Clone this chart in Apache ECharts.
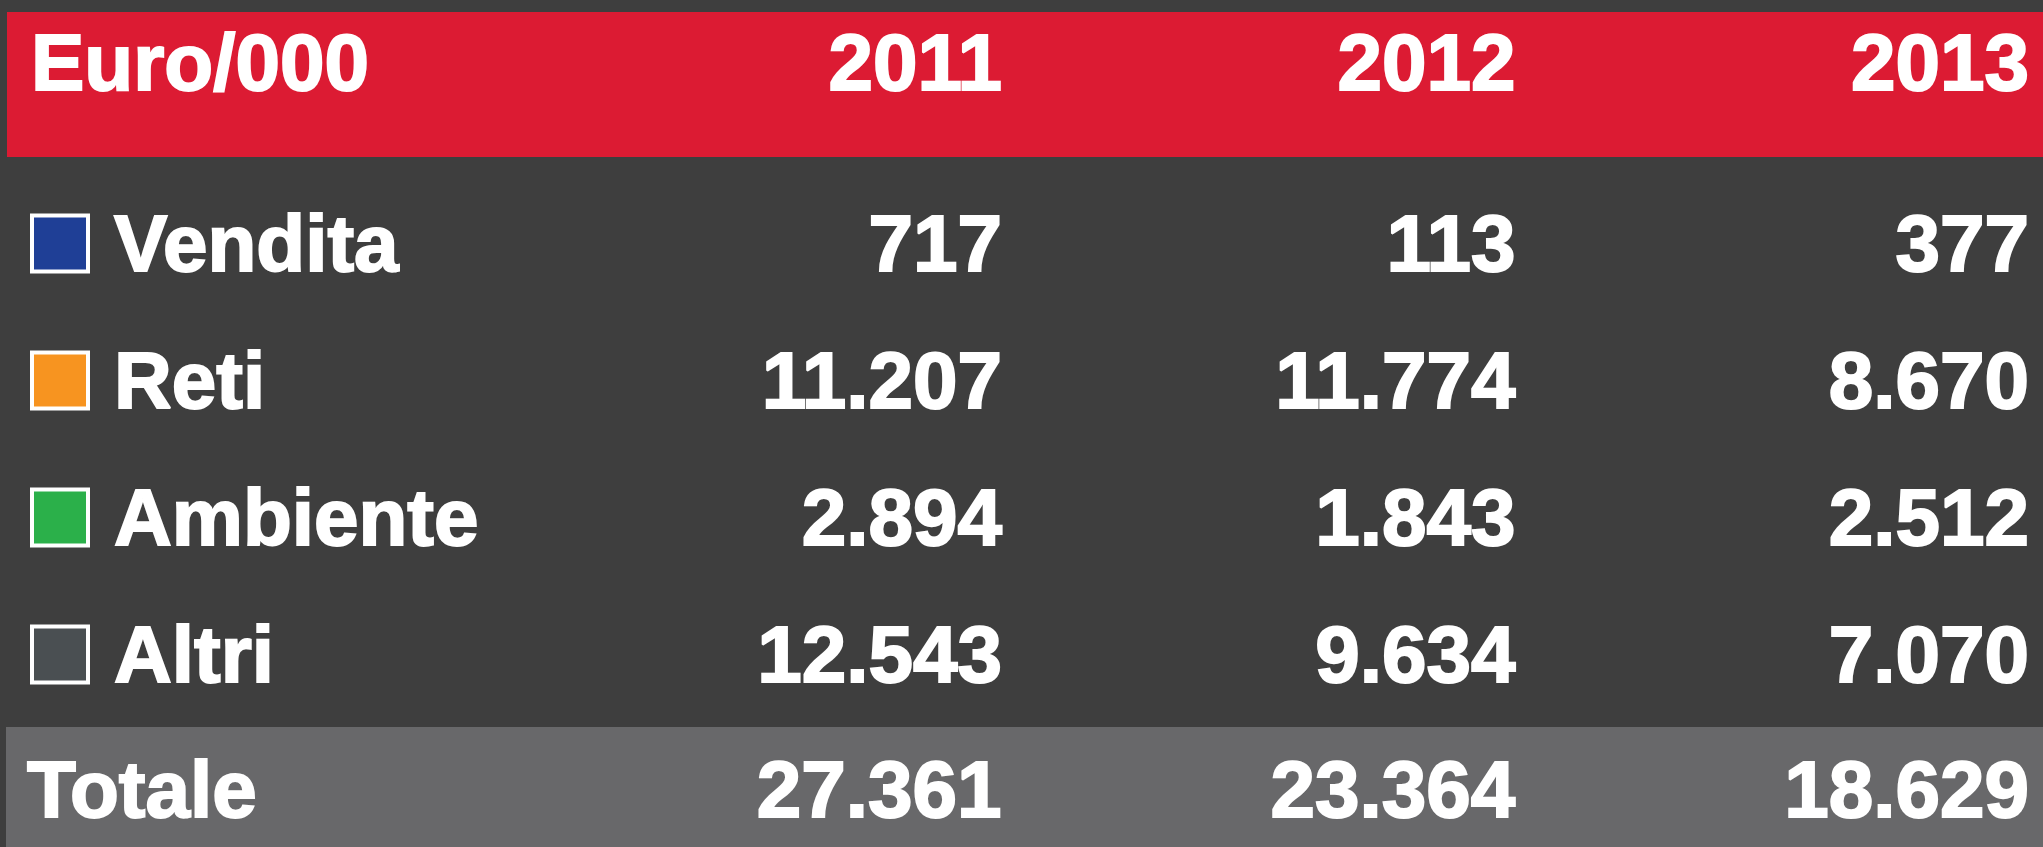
<!DOCTYPE html>
<html>
<head>
<meta charset="utf-8">
<script src="https://cdn.jsdelivr.net/npm/echarts@6/dist/echarts.min.js"></script>
<style>
    html, body {
        margin: 0;
        padding: 0;
        background: #3e3e3e;
    }
    #chart {
        width: 2043px;
        height: 847px;
    }
</style>
</head>
<body>
<div id="chart"></div>
<script>
    // intestazione e colonne
    const headerLabel = 'Euro/000'
    const years = ['2011', '2012', '2013']

    // righe della tabella
    const rowNames = ['Vendita', 'Reti', 'Ambiente', 'Altri']
    const rowColors = ['#1f3f96', '#f79420', '#2bb04a', '#4a4f52']

    const vendita = [717, 113, 377]
    const reti = [11207, 11774, 8670]
    const ambiente = [2894, 1843, 2512]
    const altri = [12543, 9634, 7070]

    const totaleLabel = 'Totale'
    const totale = [27361, 23364, 18629]

    const rowValues = [vendita, reti, ambiente, altri]

    // separatore migliaia con il punto
    const fmt = v => String(v).replace(/\B(?=(\d{3})+(?!\d))/g, '.')

    const FONT = '"Liberation Sans", Arial, Helvetica, sans-serif'
    const X_MIN = -0.9396
    const X_MAX = 3.0253

    const textStyle = {
        show: true,
        color: '#ffffff',
        opacity: 1,
        fontFamily: FONT,
        fontWeight: 'bold',
        fontSize: 80,
        textBorderColor: '#ffffff',
        textBorderWidth: 2
    }

    const hidden = { opacity: 1, color: 'transparent' }

    const xAxisFor = gridIndex => ({
        type: 'value',
        gridIndex: gridIndex,
        min: X_MIN,
        max: X_MAX,
        show: false
    })

    const yAxisFor = (gridIndex, data) => ({
        type: 'category',
        gridIndex: gridIndex,
        data: data,
        inverse: true,
        show: false
    })

    // celle numeriche (colonne 1..3)
    const valueCells = []
    rowValues.forEach((arr, r) => {
        arr.forEach((v, c) => {
            valueCells.push([c + 1, rowNames[r], v])
        })
    })

    const chart = echarts.init(document.getElementById('chart'))

    const option = {
        backgroundColor: '#3e3e3e',
        animation: false,
        grid: [
            {
                left: 7, right: 0, top: 12, height: 145,
                show: true, backgroundColor: '#dc1b33', borderWidth: 0
            },
            {
                left: 7, right: 0, top: 177, height: 548
            },
            {
                left: 6, right: 0, top: 727, height: 120,
                show: true, backgroundColor: '#68686a', borderWidth: 0
            }
        ],
        xAxis: [xAxisFor(0), xAxisFor(1), xAxisFor(2)],
        yAxis: [
            yAxisFor(0, [headerLabel]),
            yAxisFor(1, rowNames),
            yAxisFor(2, [totaleLabel])
        ],
        series: [
            // intestazione: Euro/000
            {
                type: 'scatter',
                xAxisIndex: 0,
                yAxisIndex: 0,
                symbolSize: 0,
                itemStyle: hidden,
                data: [[X_MIN, headerLabel]],
                label: Object.assign({}, textStyle, {
                    position: 'right',
                    distance: 24,
                    offset: [0, -17],
                    formatter: () => headerLabel
                })
            },
            // intestazione: anni
            {
                type: 'scatter',
                xAxisIndex: 0,
                yAxisIndex: 0,
                symbolSize: 0,
                itemStyle: hidden,
                data: years.map((y, i) => [i + 1, headerLabel, y]),
                label: Object.assign({}, textStyle, {
                    position: 'left',
                    distance: 1,
                    offset: [0, -17],
                    formatter: p => p.value[2]
                })
            },
            // quadratini colorati
            {
                type: 'scatter',
                xAxisIndex: 1,
                yAxisIndex: 1,
                symbol: 'rect',
                symbolSize: 56,
                symbolOffset: [53, -2],
                data: rowNames.map((n, i) => ({
                    value: [X_MIN, n],
                    itemStyle: { color: rowColors[i] }
                })),
                itemStyle: {
                    borderColor: '#ffffff',
                    borderWidth: 4,
                    opacity: 1
                }
            },
            // nomi delle righe
            {
                type: 'scatter',
                xAxisIndex: 1,
                yAxisIndex: 1,
                symbolSize: 0,
                itemStyle: hidden,
                data: rowNames.map(n => [X_MIN, n]),
                label: Object.assign({}, textStyle, {
                    position: 'right',
                    distance: 107,
                    offset: [0, 3],
                    formatter: p => p.value[1]
                })
            },
            // valori
            {
                type: 'scatter',
                xAxisIndex: 1,
                yAxisIndex: 1,
                symbolSize: 0,
                itemStyle: hidden,
                data: valueCells,
                label: Object.assign({}, textStyle, {
                    position: 'left',
                    distance: 1,
                    offset: [0, 3],
                    formatter: p => fmt(p.value[2])
                })
            },
            // totale
            {
                type: 'scatter',
                xAxisIndex: 2,
                yAxisIndex: 2,
                symbolSize: 0,
                itemStyle: hidden,
                data: [[X_MIN, totaleLabel]],
                label: Object.assign({}, textStyle, {
                    position: 'right',
                    distance: 21,
                    offset: [0, 8],
                    formatter: () => totaleLabel
                })
            },
            {
                type: 'scatter',
                xAxisIndex: 2,
                yAxisIndex: 2,
                symbolSize: 0,
                itemStyle: hidden,
                data: totale.map((v, i) => [i + 1, totaleLabel, v]),
                label: Object.assign({}, textStyle, {
                    position: 'left',
                    distance: 1,
                    offset: [0, 8],
                    formatter: p => fmt(p.value[2])
                })
            }
        ]
    }

    chart.setOption(option)

    window.addEventListener('resize', () => {
        chart.resize()
    })
</script>
</body>
</html>
